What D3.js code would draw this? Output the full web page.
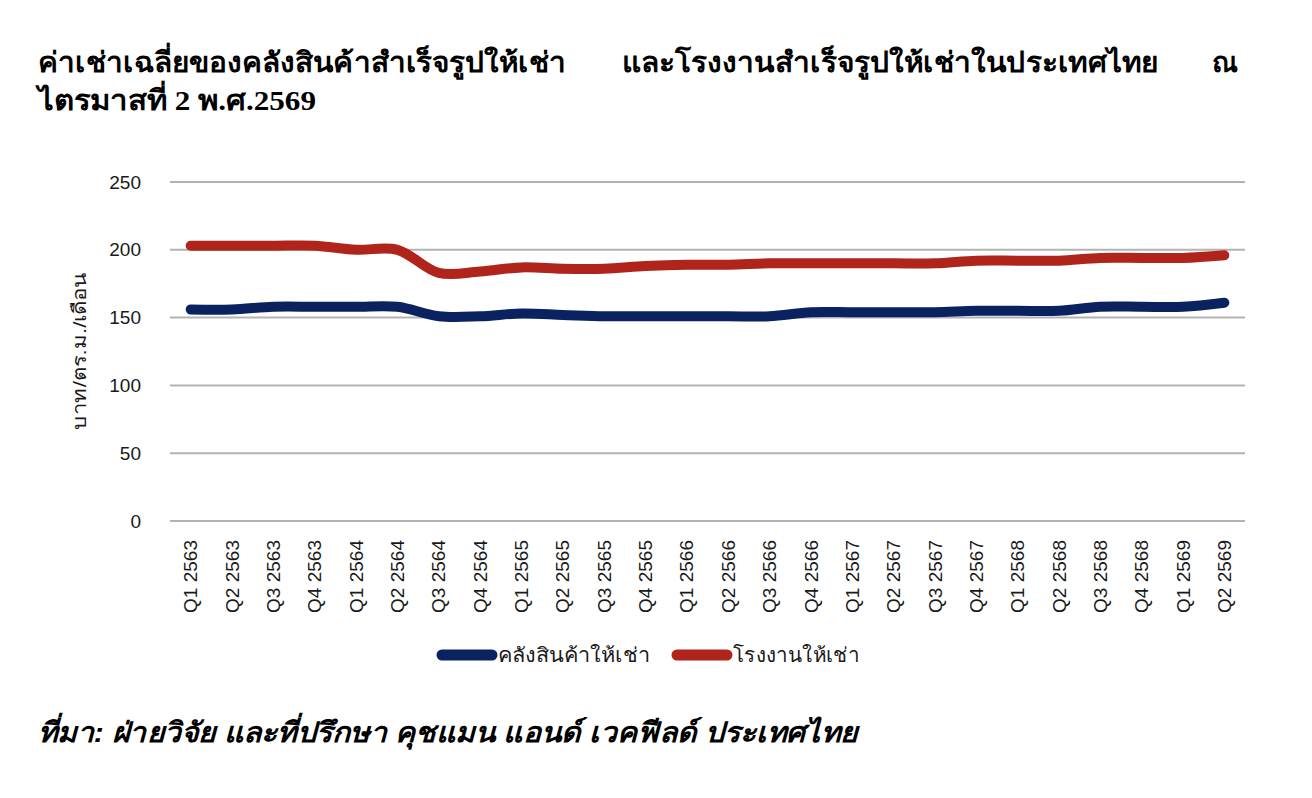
<!DOCTYPE html>
<html lang="th">
<head>
<meta charset="UTF-8">
<title>ค่าเช่าเฉลี่ย</title>
<script src="https://cdn.jsdelivr.net/npm/d3@7"></script>
<style>
  body { margin: 0; background: #fff; }
  svg text { font-family: "Liberation Sans", Arial, "Noto Sans", sans-serif; }
  .title { font-family: "Liberation Serif", "Times New Roman", serif !important; font-weight: bold; font-size: 28px; fill: #000; }
  .source { font-family: "Liberation Sans", Arial, sans-serif !important; font-weight: bold; font-style: italic; font-size: 28px; fill: #000; }
</style>
</head>
<body>
<div id="chart"></div>
<script>
// categories and values
var quarters = ["Q1 2563","Q2 2563","Q3 2563","Q4 2563","Q1 2564","Q2 2564","Q3 2564","Q4 2564",
                "Q1 2565","Q2 2565","Q3 2565","Q4 2565","Q1 2566","Q2 2566","Q3 2566","Q4 2566",
                "Q1 2567","Q2 2567","Q3 2567","Q4 2567","Q1 2568","Q2 2568","Q3 2568","Q4 2568",
                "Q1 2569","Q2 2569"];
var warehouse = [156,156,158,158,158,158,151,151,153,152,151,151,151,151,151,154,154,154,154,155,155,155,158,158,158,161];
var factory   = [203,203,203,203,200,200,183,184,187,186,186,188,189,189,190,190,190,190,190,192,192,192,194,194,194,196];
var yTicks = [0, 50, 100, 150, 200, 250];
var seriesNames = ["คลังสินค้าให้เช่า", "โรงงานให้เช่า"];
var seriesColors = ["#0b2260", "#b0241b"];

var W = 1312, H = 798;
var svg = d3.select("#chart").append("svg").attr("width", W).attr("height", H);

// helper: text squeezed/stretched to the width seen in the picture
function fitText(sel, len) {
    return sel.attr("textLength", len).attr("lengthAdjust", "spacingAndGlyphs");
}

// title, justified over two lines like the original
fitText(svg.append("text").attr("class", "title").attr("x", 38).attr("y", 72)
   .text("ค่าเช่าเฉลี่ยของคลังสินค้าสำเร็จรูปให้เช่า"), 528);
fitText(svg.append("text").attr("class", "title").attr("x", 622).attr("y", 72)
   .text("และโรงงานสำเร็จรูปให้เช่าในประเทศไทย"), 536);
svg.append("text").attr("class", "title").attr("x", 1238).attr("y", 72).attr("text-anchor", "end")
   .text("ณ");
fitText(svg.append("text").attr("class", "title").attr("x", 38).attr("y", 110)
   .text("ไตรมาสที่ 2 พ.ศ.2569"), 278);

// scales
var x = d3.scalePoint().domain(quarters).range([170, 1245]).padding(0.5);
var y = d3.scaleLinear().domain([0, 250]).range([521, 182]);

// gridlines + y labels
var grid = svg.append("g");
grid.selectAll("line").data(yTicks).enter().append("line")
    .attr("x1", 170).attr("x2", 1245)
    .attr("y1", function(d) { return y(d); }).attr("y2", function(d) { return y(d); })
    .attr("stroke", "#b3b3b3").attr("stroke-width", 2);
grid.selectAll("text").data(yTicks).enter().append("text")
    .attr("x", 141).attr("y", function(d) { return y(d); }).attr("dy", "0.35em")
    .attr("text-anchor", "end").attr("font-size", 19).attr("fill", "#1a1a1a")
    .text(function(d) { return d; });

// y axis title
fitText(svg.append("text")
   .attr("transform", "translate(86,351) rotate(-90)")
   .attr("text-anchor", "middle").attr("font-size", 19).attr("fill", "#1a1a1a")
   .text("บาท/ตร.ม./เดือน"), 157);

// x labels, rotated
svg.append("g").selectAll("text").data(quarters).enter().append("text")
   .attr("transform", function(d) { return "translate(" + x(d) + ",540) rotate(-90)"; })
   .attr("text-anchor", "end").attr("dy", "0.35em")
   .attr("font-size", 19).attr("fill", "#1a1a1a")
   .text(function(d) { return d; });

// lines
var line = d3.line()
    .x(function(d, i) { return x(quarters[i]); })
    .y(function(d) { return y(d); })
    .curve(d3.curveCatmullRom.alpha(0.5));

[warehouse, factory].forEach(function(s, i) {
    svg.append("path").datum(s)
       .attr("fill", "none")
       .attr("stroke", seriesColors[i])
       .attr("stroke-width", 10)
       .attr("stroke-linecap", "round")
       .attr("stroke-linejoin", "round")
       .attr("d", line);
});

// legend
var legendX = [442, 677];
var legendLen = [152, 126];
seriesNames.forEach(function(n, i) {
    var g = svg.append("g").attr("transform", "translate(" + legendX[i] + ",655)");
    g.append("line").attr("x1", 0).attr("x2", 50)
     .attr("stroke", seriesColors[i]).attr("stroke-width", 11).attr("stroke-linecap", "round");
    fitText(g.append("text").attr("x", 56).attr("dy", "0.35em").attr("font-size", 20)
     .attr("fill", "#1a1a1a").text(n), legendLen[i]);
});

// source
fitText(svg.append("text").attr("class", "source").attr("x", 38).attr("y", 742)
   .text("ที่มา: ฝ่ายวิจัย และที่ปรึกษา คุชแมน แอนด์ เวคฟีลด์ ประเทศไทย"), 819);
</script>
</body>
</html>
